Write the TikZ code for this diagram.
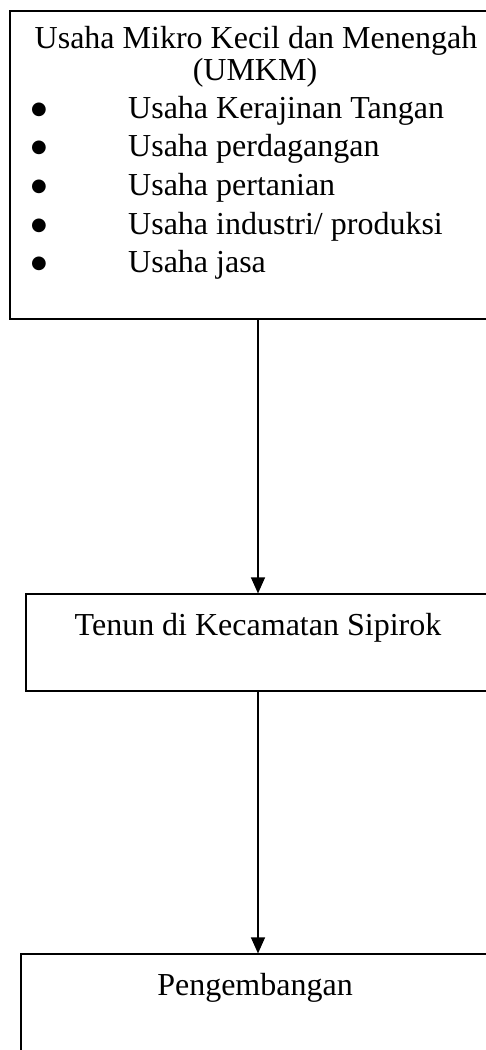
\documentclass[tikz,border=0pt]{standalone}
\usepackage{fontspec}
\setmainfont{Liberation Serif}
\newfontfamily\simbol{DejaVu Sans}
\usepackage{tikz}
\usetikzlibrary{arrows.meta,positioning}
\tikzset{
  basic/.style = {draw, line width=1.2pt, rectangle, inner sep=0pt},
  teks/.style  = {inner sep=0pt, font=\fontsize{32}{38.5}\selectfont},
  titik/.style = {inner sep=0pt, font=\simbol\fontsize{18}{18}\selectfont},
  panah/.style = {line width=1.2pt, -{Triangle[length=16pt,width=14pt]}}
}

\begin{document}
\begin{tikzpicture}[x=1pt,y=-1pt]
\clip (0,0) rectangle (486,1050);
% kotak
\node[basic, minimum width=496pt, minimum height=308pt] (umkm) at (258,165) {};
\node[basic, minimum width=464pt, minimum height=97pt] (tenun) at (258,642.5) {};
\node[basic, minimum width=474pt, minimum height=160pt] (pengembangan) at (258,1034) {};
% teks
\node[teks, anchor=base] (judul) at (256,48) {Usaha Mikro Kecil dan Menengah};
\node[teks, anchor=base] (judul2) at (255,80) {(UMKM)};
\foreach \txt [count=\i] in {Usaha Kerajinan Tangan, Usaha perdagangan, Usaha pertanian, Usaha industri/ produksi, Usaha jasa}
{
  \node[titik, anchor=base] (titik\i) at (39,{118+38.7*(\i-1)-4}) {●};
  \node[teks, anchor=base west] (jenis\i) at (128,{118+38.7*(\i-1)}) {\txt};
}
\node[teks, anchor=base] (tenunteks) at (258,635) {Tenun di Kecamatan Sipirok};
\node[teks, anchor=base] (pengteks) at (255,995) {Pengembangan};
% panah
\draw[panah] (umkm) -- (tenun);
\draw[panah] (tenun) -- (pengembangan);
\end{tikzpicture}
\end{document}
